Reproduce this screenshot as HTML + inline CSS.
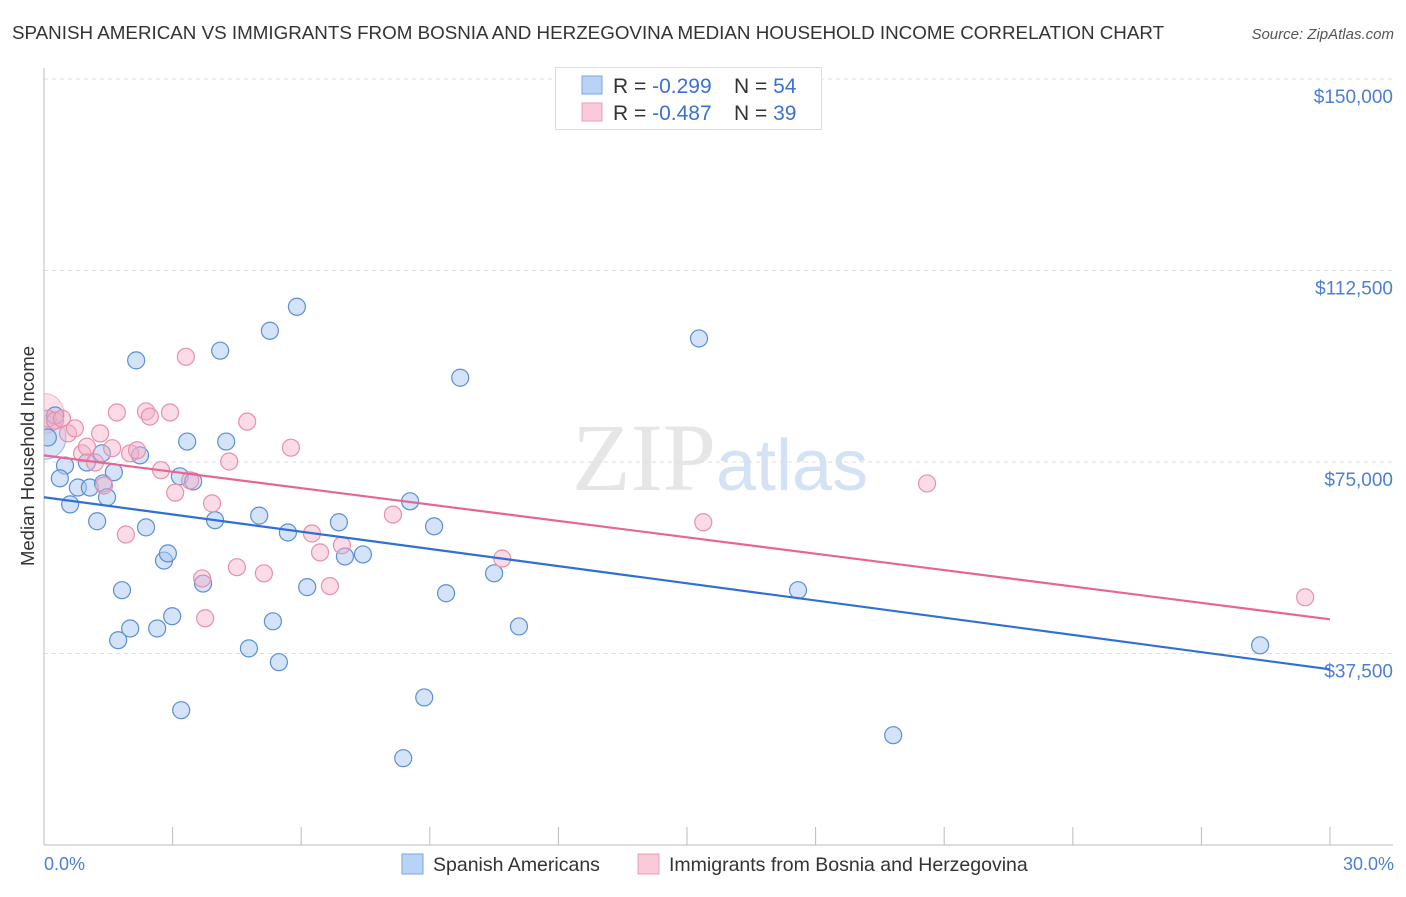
<!DOCTYPE html>
<html><head><meta charset="utf-8"><style>
body{margin:0;background:#fff;width:1406px;height:892px;overflow:hidden;font-family:"Liberation Sans",sans-serif}
</style></head><body>
<svg id="c" width="1406" height="892" xmlns="http://www.w3.org/2000/svg">
<text x="12" y="39" font-size="18.8" fill="#333">SPANISH AMERICAN VS IMMIGRANTS FROM BOSNIA AND HERZEGOVINA MEDIAN HOUSEHOLD INCOME CORRELATION CHART</text>
<text x="1394" y="39" font-size="15" fill="#555" font-style="italic" text-anchor="end">Source: ZipAtlas.com</text>
<text x="716" y="490" font-size="96" fill="#e6e6e6" text-anchor="end" font-family="Liberation Serif,serif">ZIP</text>
<text x="716" y="490" font-size="72" fill="#d3e2f5">atlas</text>
<g id="grid"></g><g id="pts"></g>
<rect x="0" y="60" width="44" height="786" fill="#fff"/>
<g id="axes"></g><g id="lines"></g>
<text transform="translate(34,456) rotate(-90)" font-size="18.5" fill="#333" text-anchor="middle">Median Household Income</text>
<text x="44" y="870" font-size="18" fill="#4a7fd4">0.0%</text>
<text x="1394" y="870" font-size="18" fill="#4a7fd4" text-anchor="end">30.0%</text>
<g>
<rect x="555.5" y="67.5" width="266" height="62" fill="#fff" stroke="#ddd"/>
<rect x="582" y="76" width="20" height="18" fill="#b8d3f5" stroke="#7aa6e2"/>
<rect x="582" y="103" width="20" height="18" fill="#fbcad8" stroke="#ef9db6"/>
<text x="613" y="93" font-size="21" fill="#333">R = <tspan fill="#3a72d0">-0.299</tspan><tspan x="734">N = </tspan><tspan fill="#3a72d0">54</tspan></text>
<text x="613" y="120" font-size="21" fill="#333">R = <tspan fill="#3a72d0">-0.487</tspan><tspan x="734">N = </tspan><tspan fill="#3a72d0">39</tspan></text>
</g>
<g>
<rect x="402" y="854" width="21" height="20" fill="#b8d3f5" stroke="#7aa6e2"/>
<text x="433" y="871" font-size="19.5" fill="#333">Spanish Americans</text>
<rect x="638" y="854" width="21" height="20" fill="#fbcad8" stroke="#ef9db6"/>
<text x="669" y="871" font-size="19.5" fill="#333">Immigrants from Bosnia and Herzegovina</text>
</g>
</svg>
<script>
const yTicks=[37500,75000,112500,150000];
const yTickLabels=["$37,500","$75,000","$112,500","$150,000"];
const blueX=[0.26,0.09,0.49,0.37,0.61,0.79,1.07,1.00,1.35,1.38,1.47,1.24,1.63,1.82,2.01,1.73,2.15,2.24,2.38,2.64,2.80,2.89,2.99,3.17,3.34,3.48,3.20,3.71,3.99,4.11,4.25,4.78,5.02,5.27,5.34,5.48,5.69,5.90,6.14,6.88,7.02,7.44,8.38,8.54,8.87,9.10,9.38,9.71,10.50,11.08,15.28,17.59,19.81,28.37];
const blueY=[84.1,79.8,74.3,71.8,66.7,70.0,70.0,74.9,76.7,70.8,68.1,63.4,73.0,49.9,42.4,40.1,94.9,76.3,62.2,42.4,55.7,57.1,44.8,72.2,79.0,71.2,26.4,51.2,63.6,96.8,79.0,38.5,64.5,100.7,43.8,35.8,61.2,105.4,50.5,63.2,56.5,56.9,17.0,67.3,28.9,62.4,49.3,91.5,53.2,42.8,99.2,49.9,21.5,39.1];
const pinkX=[0.09,0.26,0.42,0.56,0.72,0.89,1.00,1.19,1.31,1.40,1.59,1.70,1.91,2.01,2.17,2.38,2.47,2.73,2.94,3.06,3.31,3.41,3.69,3.76,3.92,4.32,4.50,4.74,5.13,5.76,6.25,6.44,6.67,6.95,8.14,10.69,15.38,20.60,29.42];
const pinkY=[83.5,83.1,83.5,80.6,81.6,76.7,78.0,74.9,80.6,70.4,77.7,84.7,60.8,76.7,77.3,84.9,83.9,73.4,84.7,69.0,95.6,71.4,52.2,44.4,66.9,75.1,54.4,82.9,53.2,77.8,61.0,57.3,50.7,58.7,64.7,56.1,63.2,70.8,48.5];
const blueTrend=[68.1,34.4];
const pinkTrend=[76.3,44.2];
const trendX=[0,30];
const NS="http://www.w3.org/2000/svg";
function xs(p){return 44+p/30*1286;}
function ys(k){return 845-k*1000/150000*766;}
function mk(t,a,parent){const e=document.createElementNS(NS,t);for(const k in a)e.setAttribute(k,a[k]);parent.appendChild(e);return e;}
const grid=document.getElementById('grid'),axes=document.getElementById('axes'),pts=document.getElementById('pts'),lines=document.getElementById('lines');
yTicks.forEach((v,i)=>{
 const y=ys(v/1000);
 const g=mk('line',{x1:44,x2:1393,y1:y,y2:y,stroke:'#ddd','stroke-dasharray':'4,4'},grid);
 
 
 const t=mk('text',{x:1393,y:y+24,'font-size':19,fill:'#4a7fd4','text-anchor':'end'},grid);
 t.textContent=yTickLabels[i];
 
 
});
let ax=mk('line',{x1:44,x2:44,y1:68,y2:845,stroke:'#bbb'},axes);


ax=mk('line',{x1:44,x2:1393,y1:845,y2:845,stroke:'#bbb'},axes);


for(let i=1;i<=10;i++){
 const tk=mk('line',{x1:xs(i*3),x2:xs(i*3),y1:827,y2:845,stroke:'#bbb'},axes);
 
 
}
mk('circle',{cx:44,cy:ys(79.8),r:22,fill:'rgba(169,200,240,0.45)',stroke:'rgba(91,143,214,0.6)'},pts);
mk('circle',{cx:44,cy:ys(84.5),r:20,fill:'rgba(245,170,195,0.35)',stroke:'rgba(232,120,160,0.5)'},pts);
blueX.forEach((x,i)=>{
 const c=mk('circle',{cx:xs(x),cy:ys(blueY[i]),r:8.5,fill:'rgba(169,200,240,0.5)',stroke:'#5b8fd6','stroke-width':1.2},pts);
 
 
});
pinkX.forEach((x,i)=>{
 const c=mk('circle',{cx:xs(x),cy:ys(pinkY[i]),r:8.5,fill:'rgba(245,175,200,0.45)',stroke:'#e890ab','stroke-width':1.2},pts);
 
 
});
let l=mk('line',{x1:xs(trendX[0]),x2:xs(trendX[1]),y1:ys(blueTrend[0]),y2:ys(blueTrend[1]),stroke:'#2f6fd6','stroke-width':2.2},lines);


l=mk('line',{x1:xs(trendX[0]),x2:xs(trendX[1]),y1:ys(pinkTrend[0]),y2:ys(pinkTrend[1]),stroke:'#e8658f','stroke-width':2.2},lines);


</script>
</body></html>
